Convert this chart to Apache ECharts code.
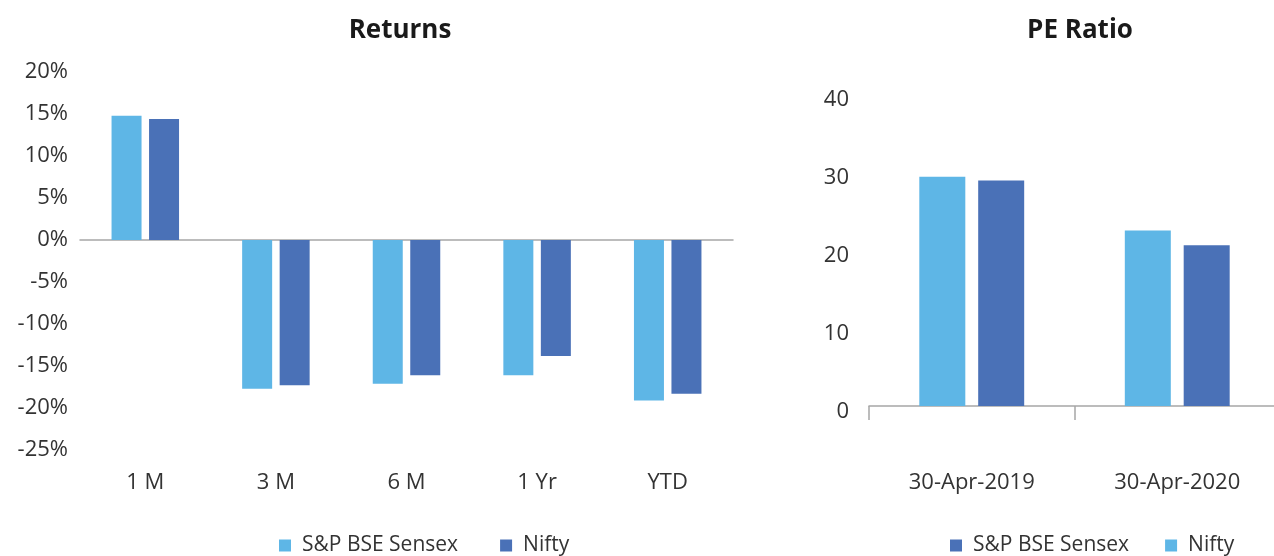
<!DOCTYPE html>
<html>
<head>
<meta charset="utf-8">
<script src="https://cdn.jsdelivr.net/npm/echarts@6/dist/echarts.min.js"></script>
<style>
  html, body { margin: 0; padding: 0; background: #fff; overflow: hidden; }
  #chart { width: 1290px; height: 556px; }
</style>
</head>
<body>
<div id="chart"></div>
<script>
// Returns (%)
const periods = ['1 M', '3 M', '6 M', '1 Yr', 'YTD']
const sensexReturns = [14.8, -17.7, -17.1, -16.1, -19.1]
const niftyReturns = [14.4, -17.3, -16.1, -13.8, -18.3]

// PE ratio
const peDates = ['30-Apr-2019', '30-Apr-2020']
const niftyPE = [29.4, 22.5]
const sensexPE = [28.9, 20.6]

const light = '#5eb6e6'
const dark = '#4a71b7'
const font = '"Open Sans", "Noto Sans", sans-serif'
const labelStyle = { color: '#333', fontSize: 22, fontFamily: font }

// chart div is a bit wider than the window so the PE plot can run off the right edge
const chart = echarts.init(document.getElementById('chart'), null, { renderer: 'canvas' })
chart.setOption({
  animation: false,
  title: [
    { text: 'Returns', left: 395, top: 13, textAlign: 'center',
      textStyle: { fontSize: 26, fontWeight: 'bold', color: '#1a1a1a', fontFamily: font } },
    { text: 'PE Ratio', left: 1075, top: 13, textAlign: 'center',
      textStyle: { fontSize: 26, fontWeight: 'bold', color: '#1a1a1a', fontFamily: font } }
  ],
  legend: [
    {
      left: 274, top: 530, itemWidth: 12, itemHeight: 12, itemGap: 42,
      icon: 'rect',
      textStyle: { ...labelStyle, fontSize: 21, padding: [0, 0, 0, 6] },
      data: [
        { name: 'S&P BSE Sensex', itemStyle: { color: light } },
        { name: 'Nifty', itemStyle: { color: dark } }
      ]
    },
    {
      left: 945, top: 530, itemWidth: 12, itemHeight: 12, itemGap: 36,
      icon: 'rect',
      textStyle: { ...labelStyle, fontSize: 21, padding: [0, 0, 0, 6] },
      data: [
        { name: 'S&P BSE Sensex', itemStyle: { color: dark } },
        { name: 'Nifty', itemStyle: { color: light } }
      ]
    }
  ],
  grid: [
    { left: 80, width: 653, top: 72, bottom: 106 },
    { left: 869, width: 411, top: 94, bottom: 150 }
  ],
  xAxis: [
    {
      type: 'category', gridIndex: 0, data: periods,
      axisLine: { onZero: true, lineStyle: { color: '#a6a6a6', width: 1.5 } },
      axisTick: { show: false },
      axisLabel: { show: false }
    },
    {
      type: 'category', gridIndex: 0, data: periods, position: 'bottom',
      axisLine: { show: false, onZero: false },
      axisTick: { show: false },
      axisLabel: { ...labelStyle, margin: 22 }
    },
    {
      type: 'category', gridIndex: 1, data: peDates,
      axisLine: { lineStyle: { color: '#a6a6a6', width: 1.5 } },
      axisTick: { show: true, length: 14, lineStyle: { color: '#a6a6a6', width: 1.5 } },
      axisLabel: { ...labelStyle, margin: 66 }
    }
  ],
  yAxis: [
    {
      type: 'value', gridIndex: 0, min: -25, max: 20, interval: 5,
      axisLine: { show: false }, axisTick: { show: false }, splitLine: { show: false },
      axisLabel: { ...labelStyle, margin: 12, formatter: '{value}%' }
    },
    {
      type: 'value', gridIndex: 1, min: 0, max: 40, interval: 10,
      axisLine: { show: false }, axisTick: { show: false }, splitLine: { show: false },
      axisLabel: {
        ...labelStyle, margin: 20,
        formatter: '{v|{value}}',
        rich: { v: { ...labelStyle, padding: [11, 0, 0, 0] } }
      }
    }
  ],
  series: [
    { name: 'S&P BSE Sensex', type: 'bar', xAxisIndex: 0, yAxisIndex: 0,
      data: sensexReturns, barWidth: 30, barGap: '25%', itemStyle: { color: light } },
    { name: 'Nifty', type: 'bar', xAxisIndex: 0, yAxisIndex: 0,
      data: niftyReturns, barWidth: 30, barGap: '25%', itemStyle: { color: dark } },
    { name: 'Nifty', type: 'bar', xAxisIndex: 2, yAxisIndex: 1,
      data: niftyPE, barWidth: 46, barGap: '28%', itemStyle: { color: light } },
    { name: 'S&P BSE Sensex', type: 'bar', xAxisIndex: 2, yAxisIndex: 1,
      data: sensexPE, barWidth: 46, barGap: '28%', itemStyle: { color: dark } }
  ]
})
</script>
</body>
</html>
